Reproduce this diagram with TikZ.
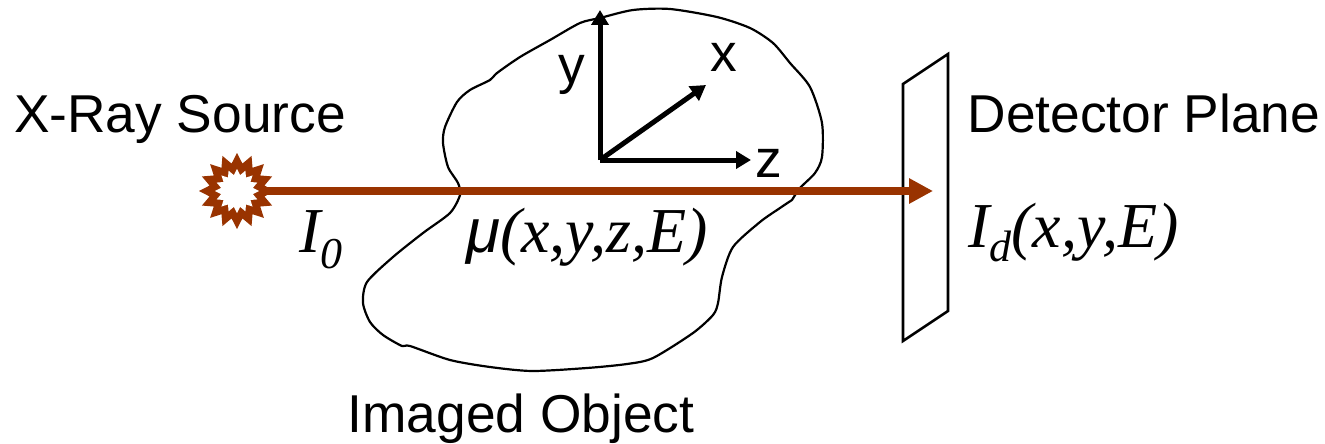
\documentclass[tikz,border=0pt]{standalone}
\usepackage{fontspec}
\setmainfont{Liberation Sans}
\newfontfamily\serifit{Liberation Serif}
\usetikzlibrary{positioning,arrows.meta,shapes.geometric}
\definecolor{rayred}{RGB}{153,51,0}

\begin{document}
\begin{tikzpicture}[
  x=1pt, y=-1pt,
  lbl/.style={font=\fontsize{53.3}{56}\selectfont, inner sep=0pt, anchor=base},
  mathlbl/.style={font=\fontsize{64}{68}\selectfont\serifit\itshape, inner sep=0pt, anchor=base west},
  axis/.style={line width=5pt, -{Triangle[length=15pt, width=17pt]}},
  ray/.style={line width=8pt, draw=rayred, -{Triangle[length=24pt, width=24pt]}},
  outline/.style={draw=black, line width=2.2pt, line join=round},
]
\useasboundingbox (0,0) rectangle (1325,444);

% ---- imaged object ----
\draw[outline] plot[smooth, tension=0.45] coordinates {
  (792,200) (780,208) (760,222) (733,247) (722,277) (718,303) (713,315) (693,333)
  (653,358) (627,364) (587,368) (532,371) (490,367) (450,360) (410,346) (402,346)
  (383,335) (370,322) (363,303) (367,282) (393,257) (423,233) (450,213) (460,195)
  (458,183) (448,167) (443,143) (445,127) (457,102) (470,90) (490,80) (497,73)
  (520,57) (550,40) (580,23) (600,18) (633,10) (670,9) (717,17) (750,28)
  (773,43) (790,63) (810,87) (822,123) (822,157) (815,173) (800,188) (792,200)};

% ---- detector plane ----
\draw[outline, line width=2.6pt, line join=miter] (903,84) -- (948,54) -- (948,311) -- (903,341) -- cycle;

% ---- source and ray ----
\node[star, star points=16, star point ratio=1.36, minimum size=76pt, inner sep=0pt, fill=rayred] (source) at (237,191) {};
\node[star, star points=16, star point ratio=1.36, minimum size=44pt, inner sep=0pt, fill=white] (hole) at (237,191) {};
\coordinate (hit) at (933,191);
\draw[ray] (hole) -- (hit);

% ---- axes ----
\coordinate (origin) at (600,160);
\coordinate (ytip) at (600,10);
\coordinate (xtip) at (706,85);
\coordinate (ztip) at (751,160);
\draw[axis] (origin) -- (ytip);
\draw[axis] (origin) -- (xtip);
\draw[axis] (origin) -- (ztip);
\node[lbl] (ylabel) at (572,83) {y};
\node[lbl] (xlabel) at (724,71) {x};
\node[lbl] (zlabel) at (769,177) {z};

% ---- labels ----
\node[lbl] (sourcelabel) at (180,132) {X-Ray Source};
\node[lbl] (planelabel) at (1144,132) {Detector Plane};
\node[lbl] (objectlabel) at (521,432) {Imaged Object};
\node[mathlbl] (izero) at (299,252) {I\raisebox{-16pt}{\fontsize{44}{44}\selectfont 0}};
\node[mathlbl] (mu) at (466,252) {{\fontsize{62}{64}\selectfont\rmfamily\itshape μ}(x,y,z,E)};
\node[mathlbl] (idet) at (968,247) {I\raisebox{-14pt}{\fontsize{44}{44}\selectfont d}(x,y,E)};
\end{tikzpicture}
\end{document}
